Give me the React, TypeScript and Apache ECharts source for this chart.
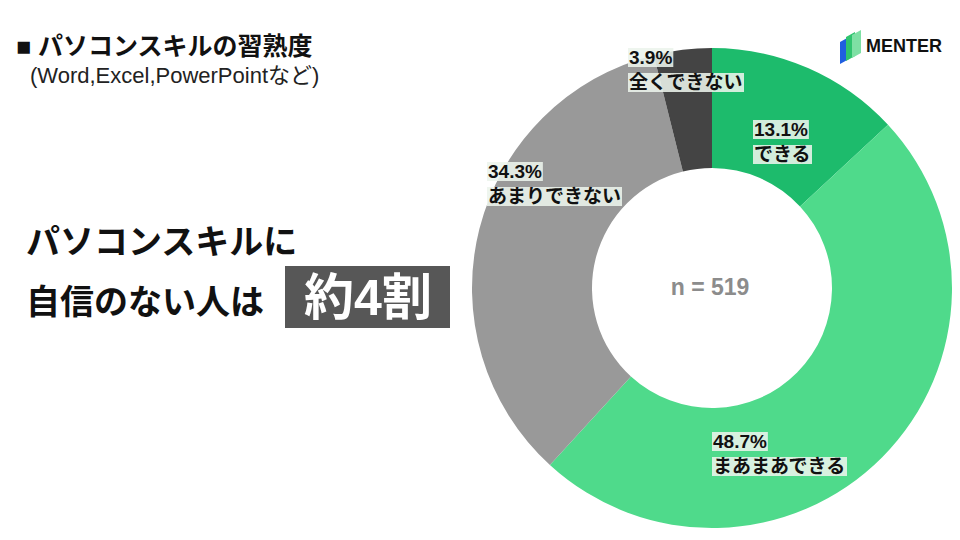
import React, { useEffect, useRef } from "react";
import * as echarts from "echarts";

const categories = ["できる", "まあまあできる", "あまりできない", "全くできない"];
const values = [13.1, 48.7, 34.3, 3.9];
const colors = ["#1dbb6c", "#4fda8b", "#999999", "#444444"];
const sampleLabel = "n = 519";
const titleText = "■ パソコンスキルの習熟度";
const subtitleText = "(Word,Excel,PowerPointなど)";
const headline1 = "パソコンスキルに";
const headline2 = "自信のない人は";
const headlineBox = "約4割";

// label anchor positions (top-left), layout only
const labelPos = [
  [753, 117],
  [712, 429],
  [487, 159],
  [628, 45],
];

const FONT = "'Liberation Sans', 'Noto Sans CJK JP', sans-serif";

export default function App() {
  const ref = useRef<HTMLDivElement>(null);
  useEffect(() => {
    const chart = echarts.init(ref.current!, undefined, { renderer: "svg" });
    chart.setOption({
      animation: false,
      backgroundColor: "#ffffff",
      textStyle: { fontFamily: FONT },
      series: [
        {
          type: "pie",
          center: [712, 288],
          radius: [120, 240],
          startAngle: 90,
          clockwise: true,
          data: categories.map((c, i) => ({
            name: c,
            value: values[i],
            itemStyle: { color: colors[i] },
          })),
          label: {
            show: true,
            position: "inside",
            formatter: (p: any) => `{a|${p.value.toFixed(1)}%}\n{a|${p.name}}`,
            rich: {
              a: {
                fontFamily: FONT,
                fontSize: 19,
                fontWeight: "bold",
                color: "#111111",
                backgroundColor: "rgba(236,244,236,0.88)",
                lineHeight: 25,
                padding: [0, 1, 0, 1],
              },
            },
          },
          labelLine: { show: false },
          labelLayout: (params: any) => {
            const p = labelPos[params.dataIndex];
            return { x: p[0], y: p[1], align: "left", verticalAlign: "top" };
          },
          emphasis: { disabled: true },
        },
      ],
      graphic: [
        {
          type: "text",
          left: 16,
          top: 33,
          style: { text: titleText, font: `bold 25px ${FONT}`, fill: "#111" },
        },
        {
          type: "text",
          left: 30,
          top: 64,
          style: { text: subtitleText, font: `22px ${FONT}`, fill: "#222" },
        },
        {
          type: "text",
          left: 26,
          top: 225,
          style: { text: headline1, font: `bold 34px ${FONT}`, fill: "#111" },
        },
        {
          type: "text",
          left: 26,
          top: 285,
          style: { text: headline2, font: `bold 34px ${FONT}`, fill: "#111" },
        },
        {
          type: "rect",
          shape: { x: 285, y: 266, width: 165, height: 62 },
          style: { fill: "#575757" },
        },
        {
          type: "text",
          x: 368,
          y: 298,
          style: {
            text: headlineBox,
            font: `bold 50px ${FONT}`,
            fill: "#ffffff",
            align: "center",
            verticalAlign: "middle",
          },
        },
        {
          type: "text",
          x: 710,
          y: 287,
          style: {
            text: sampleLabel,
            font: `bold 23px ${FONT}`,
            fill: "#8c8c8c",
            align: "center",
            verticalAlign: "middle",
          },
        },
        {
          type: "polygon",
          shape: { points: [[840, 42], [849, 37], [849, 59], [840, 64]] },
          style: { fill: "#1f5fe0" },
        },
        {
          type: "polygon",
          shape: { points: [[846, 37], [855, 32], [855, 56], [846, 61]] },
          style: { fill: "#2fc46f" },
        },
        {
          type: "polygon",
          shape: { points: [[852, 35], [861, 30], [861, 53], [852, 58]] },
          style: { fill: "#7ee0a4" },
        },
        {
          type: "text",
          left: 866,
          top: 37,
          style: { text: "MENTER", font: `bold 18px ${FONT}`, fill: "#111" },
        },
      ],
    });
    return () => chart.dispose();
  }, []);
  return (
    <div
      ref={ref}
      style={{ position: "fixed", left: 0, top: 0, width: 960, height: 540 }}
    />
  );
}
